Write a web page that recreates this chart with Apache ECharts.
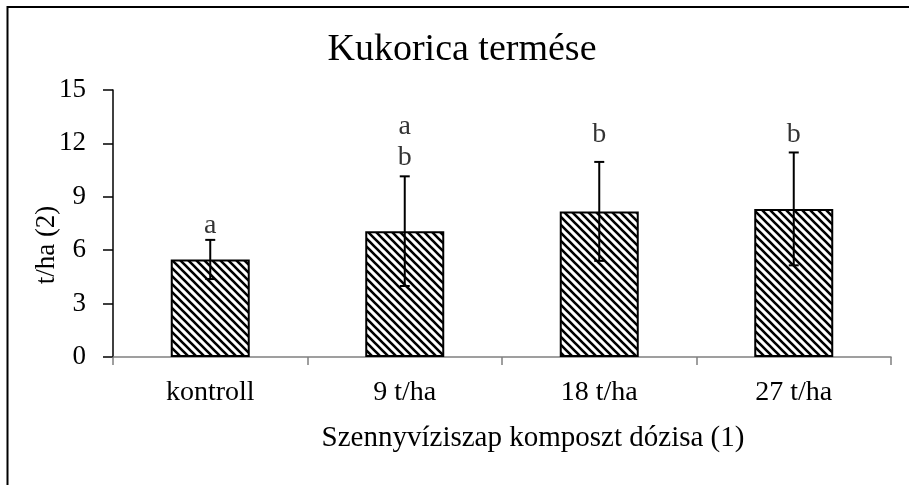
<!DOCTYPE html>
<html>
<head>
<meta charset="utf-8">
<script src="https://cdn.jsdelivr.net/npm/echarts@6/dist/echarts.min.js"></script>
<style>
  html, body { margin: 0; padding: 0; background: #fff; }
  #chart { width: 909px; height: 485px; }
</style>
</head>
<body>
<div id="chart"></div>
<script>
const categories = ['kontroll', '9 t/ha', '18 t/ha', '27 t/ha']
const means = [5.48, 7.07, 8.18, 8.32]
const sds = [1.1, 3.08, 2.78, 3.17]
const yTicks = [0, 3, 6, 9, 12, 15]

// significance letters: category index, height on the value axis, text
const letterCat = [0, 1, 1, 2, 3]
const letterY = [7.36, 12.92, 11.18, 12.47, 12.47]
const letterText = ['a', 'a', 'b', 'b', 'b']

const FONT = '"Liberation Serif", "DejaVu Serif", serif'

// hatch pattern for the bars
function makeHatch() {
    const size = 8
    const c = document.createElement('canvas')
    c.width = size
    c.height = size
    const ctx = c.getContext('2d')
    ctx.fillStyle = '#fff'
    ctx.fillRect(0, 0, size, size)
    ctx.strokeStyle = '#000'
    ctx.lineWidth = 2.6
    ctx.beginPath()
    ctx.moveTo(-size, -size); ctx.lineTo(2 * size, 2 * size)
    ctx.moveTo(-size, 0); ctx.lineTo(size, 2 * size)
    ctx.moveTo(0, -size); ctx.lineTo(2 * size, size)
    ctx.stroke()
    return c
}

const chart = echarts.init(document.getElementById('chart'))

const errData = means.map((m, i) => [i, m - sds[i], m + sds[i]])
const letterData = letterCat.map((c, i) => [c, letterY[i], letterText[i]])

const option = {
    animation: false,
    backgroundColor: '#fff',
    grid: { left: 113, right: 18, top: 90, bottom: 128 },
    xAxis: {
        type: 'category',
        data: categories,
        axisLine: { lineStyle: { color: '#808080', width: 1.5 } },
        axisTick: { show: true, length: 8, lineStyle: { color: '#808080', width: 1.5 } },
        axisLabel: { color: '#000', fontFamily: FONT, fontSize: 28, margin: 22 }
    },
    yAxis: {
        type: 'value',
        min: 0,
        max: 15,
        interval: 3,
        splitLine: { show: false },
        axisLine: { show: true, lineStyle: { color: '#000', width: 1.5 } },
        axisTick: { show: true, length: 10, lineStyle: { color: '#000', width: 1.5 } },
        axisLabel: {
            color: '#000', fontFamily: FONT, fontSize: 27, margin: 27,
            formatter: v => yTicks.includes(v) ? String(v) : ''
        }
    },
    graphic: [
        {
            type: 'rect',
            shape: { x: 7.5, y: 7, width: 1000, height: 1000 },
            style: { fill: 'none', stroke: '#000', lineWidth: 2 },
            silent: true
        },
        {
            type: 'text',
            x: 462, y: 50,
            style: {
                text: 'Kukorica termése', font: '38px ' + FONT,
                fill: '#000', textAlign: 'center', textVerticalAlign: 'middle'
            }
        },
        {
            type: 'text',
            x: 47, y: 245,
            rotation: Math.PI / 2,
            style: {
                text: 't/ha (2)', font: '27px ' + FONT,
                fill: '#000', textAlign: 'center', textVerticalAlign: 'middle'
            }
        },
        {
            type: 'text',
            x: 533, y: 438,
            style: {
                text: 'Szennyvíziszap komposzt dózisa (1)', font: '29px ' + FONT,
                fill: '#000', textAlign: 'center', textVerticalAlign: 'middle'
            }
        }
    ],
    series: [
        {
            type: 'bar',
            data: means,
            barWidth: 79,
            itemStyle: {
                color: { image: makeHatch(), repeat: 'repeat' },
                borderColor: '#000',
                borderWidth: 2
            }
        },
        {
            type: 'custom',
            data: errData,
            z: 5,
            renderItem: function (params, api) {
                const x = api.coord([api.value(0), 0])[0]
                const lo = api.coord([api.value(0), api.value(1)])[1]
                const hi = api.coord([api.value(0), api.value(2)])[1]
                const cap = 5
                const style = { stroke: '#000', lineWidth: 2 }
                return {
                    type: 'group',
                    children: [
                        { type: 'line', shape: { x1: x, y1: hi, x2: x, y2: lo }, style },
                        { type: 'line', shape: { x1: x - cap, y1: hi, x2: x + cap, y2: hi }, style },
                        { type: 'line', shape: { x1: x - cap, y1: lo, x2: x + cap, y2: lo }, style }
                    ]
                }
            }
        },
        {
            type: 'scatter',
            data: letterData,
            symbolSize: 0,
            label: {
                show: true,
                position: 'inside',
                formatter: p => p.value[2],
                color: '#000',
                fontFamily: FONT,
                fontSize: 28
            }
        }
    ]
}

chart.setOption(option)
</script>
</body>
</html>
